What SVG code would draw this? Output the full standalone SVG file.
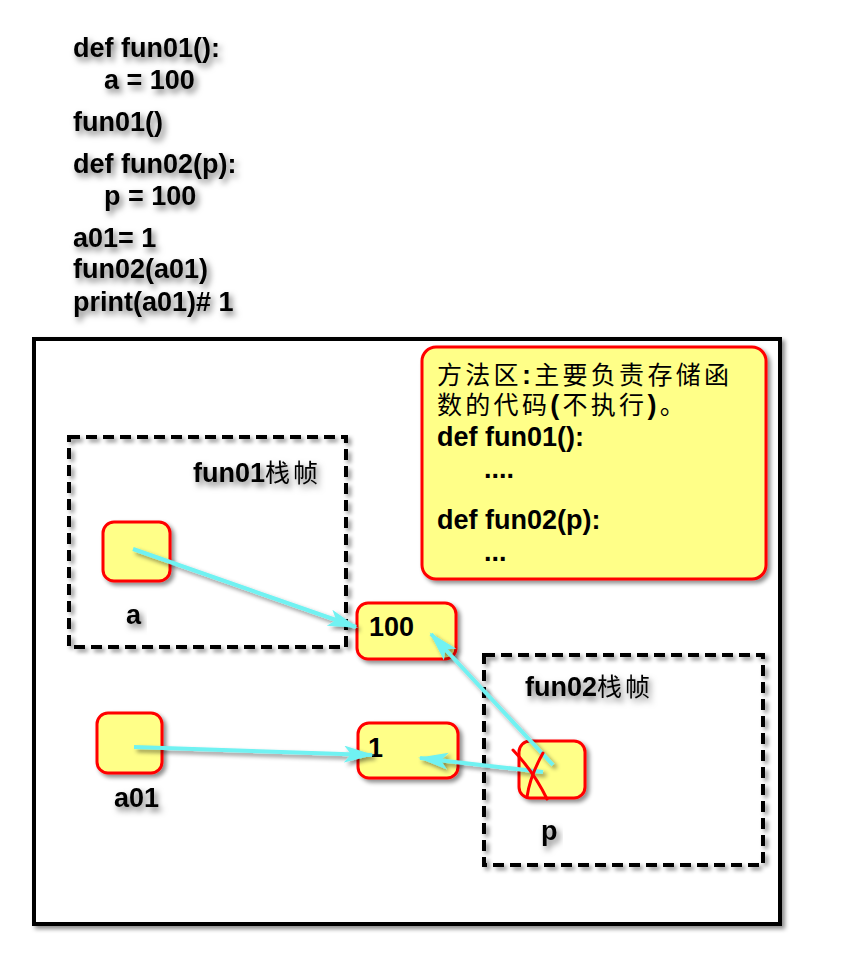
<svg xmlns="http://www.w3.org/2000/svg" width="847" height="977" viewBox="0 0 847 977">
<style>
.code{font-family:"Liberation Sans",Arial,sans-serif;font-weight:bold;font-size:27px;fill:#000}
.cjk{font-family:"Noto Sans CJK SC","Liberation Sans",sans-serif;font-weight:normal;font-size:25px}
.node{fill:#FFFF88;stroke:#FF0000;stroke-width:3}
.frame{fill:none;stroke:#000;stroke-width:4;stroke-dasharray:11 6}
.conn{stroke:#70F2F2;stroke-width:4;fill:none}
</style>
<defs>
<filter id="sh" x="-20%" y="-20%" width="150%" height="150%">
<feDropShadow dx="3" dy="3" stdDeviation="2" flood-color="#000" flood-opacity="0.45"/>
</filter>
<filter id="tsh" x="-20%" y="-30%" width="150%" height="180%">
<feDropShadow dx="3" dy="4" stdDeviation="3" flood-color="#000" flood-opacity="0.55"/>
</filter>
<marker id="arr" markerUnits="userSpaceOnUse" markerWidth="32" markerHeight="18" refX="28" refY="8.5" orient="auto">
<path d="M0,0 L30,8.5 L0,17 L7,8.5 z" fill="#70F2F2"/>
</marker>
</defs>
<rect width="847" height="977" fill="#fff"/>

<g id="code" class="code" filter="url(#tsh)">
<text x="73" y="57">def fun01():</text>
<text x="104" y="89">a = 100</text>
<text x="73" y="131">fun01()</text>
<text x="73" y="173">def fun02(p):</text>
<text x="104" y="205">p = 100</text>
<text x="73" y="247">a01= 1</text>
<text x="73" y="278">fun02(a01)</text>
<text x="73" y="311">print(a01)# 1</text>
</g>

<g id="memory">
<rect x="34" y="339" width="746" height="585" fill="#fff" stroke="#000" stroke-width="4" filter="url(#sh)"/>
</g>

<g id="method-area">
<rect class="node" x="422" y="347" width="344" height="232" rx="14" filter="url(#sh)"/>
<text class="code" x="437" y="384" letter-spacing="3.3"><tspan class="cjk">方法区</tspan>:<tspan class="cjk">主要负责存储函</tspan></text>
<text class="code" x="437" y="414" letter-spacing="3.3"><tspan class="cjk">数的代码</tspan>(<tspan class="cjk">不执行</tspan>)<tspan class="cjk">。</tspan></text>
<text class="code" x="437" y="446">def fun01():</text>
<text class="code" x="484" y="478">....</text>
<text class="code" x="437" y="529">def fun02(p):</text>
<text class="code" x="484" y="561">...</text>
</g>

<g id="fun01-frame">
<rect class="frame" x="69" y="437" width="277" height="210" filter="url(#sh)"/>
<text class="code" x="193" y="482" filter="url(#tsh)">fun01<tspan class="cjk" letter-spacing="3">栈帧</tspan></text>
</g>

<g id="fun02-frame">
<rect class="frame" x="484" y="655" width="279" height="210" filter="url(#sh)"/>
<text class="code" x="525" y="696" filter="url(#tsh)">fun02<tspan class="cjk" letter-spacing="3">栈帧</tspan></text>
</g>

<g id="node-a">
<rect class="node" x="103" y="522" width="67" height="59" rx="11" filter="url(#sh)"/>
<text class="code" x="126" y="624" filter="url(#tsh)">a</text>
</g>

<g id="node-100">
<rect class="node" x="357" y="603" width="99" height="56" rx="11" filter="url(#sh)"/>
<text class="code" x="369" y="636">100</text>
</g>

<g id="node-a01">
<rect class="node" x="97" y="713" width="65" height="60" rx="11" filter="url(#sh)"/>
<text class="code" x="114" y="807" filter="url(#tsh)">a01</text>
</g>

<g id="node-1">
<rect class="node" x="358" y="723" width="100" height="55" rx="11" filter="url(#sh)"/>
<text class="code" x="368" y="757">1</text>
</g>

<g id="node-p">
<rect class="node" x="519" y="741" width="66" height="57" rx="11" filter="url(#sh)"/>
<text class="code" x="541" y="840" filter="url(#tsh)">p</text>
</g>

<g id="connectors" filter="url(#sh)">
<line class="conn" x1="133" y1="549" x2="356" y2="627" marker-end="url(#arr)"/>
<line class="conn" x1="134" y1="747" x2="372" y2="755" marker-end="url(#arr)"/>
<line class="conn" x1="553" y1="765" x2="431" y2="634" marker-end="url(#arr)"/>
<line class="conn" x1="543" y1="772" x2="420" y2="758" marker-end="url(#arr)"/>
</g>

<g id="cross" stroke="#FF0000" stroke-width="3" fill="none" stroke-linecap="round">
<path d="M513,750 Q534,772 547,799"/>
<path d="M543,753 Q530,776 527,797"/>
</g>
</svg>
